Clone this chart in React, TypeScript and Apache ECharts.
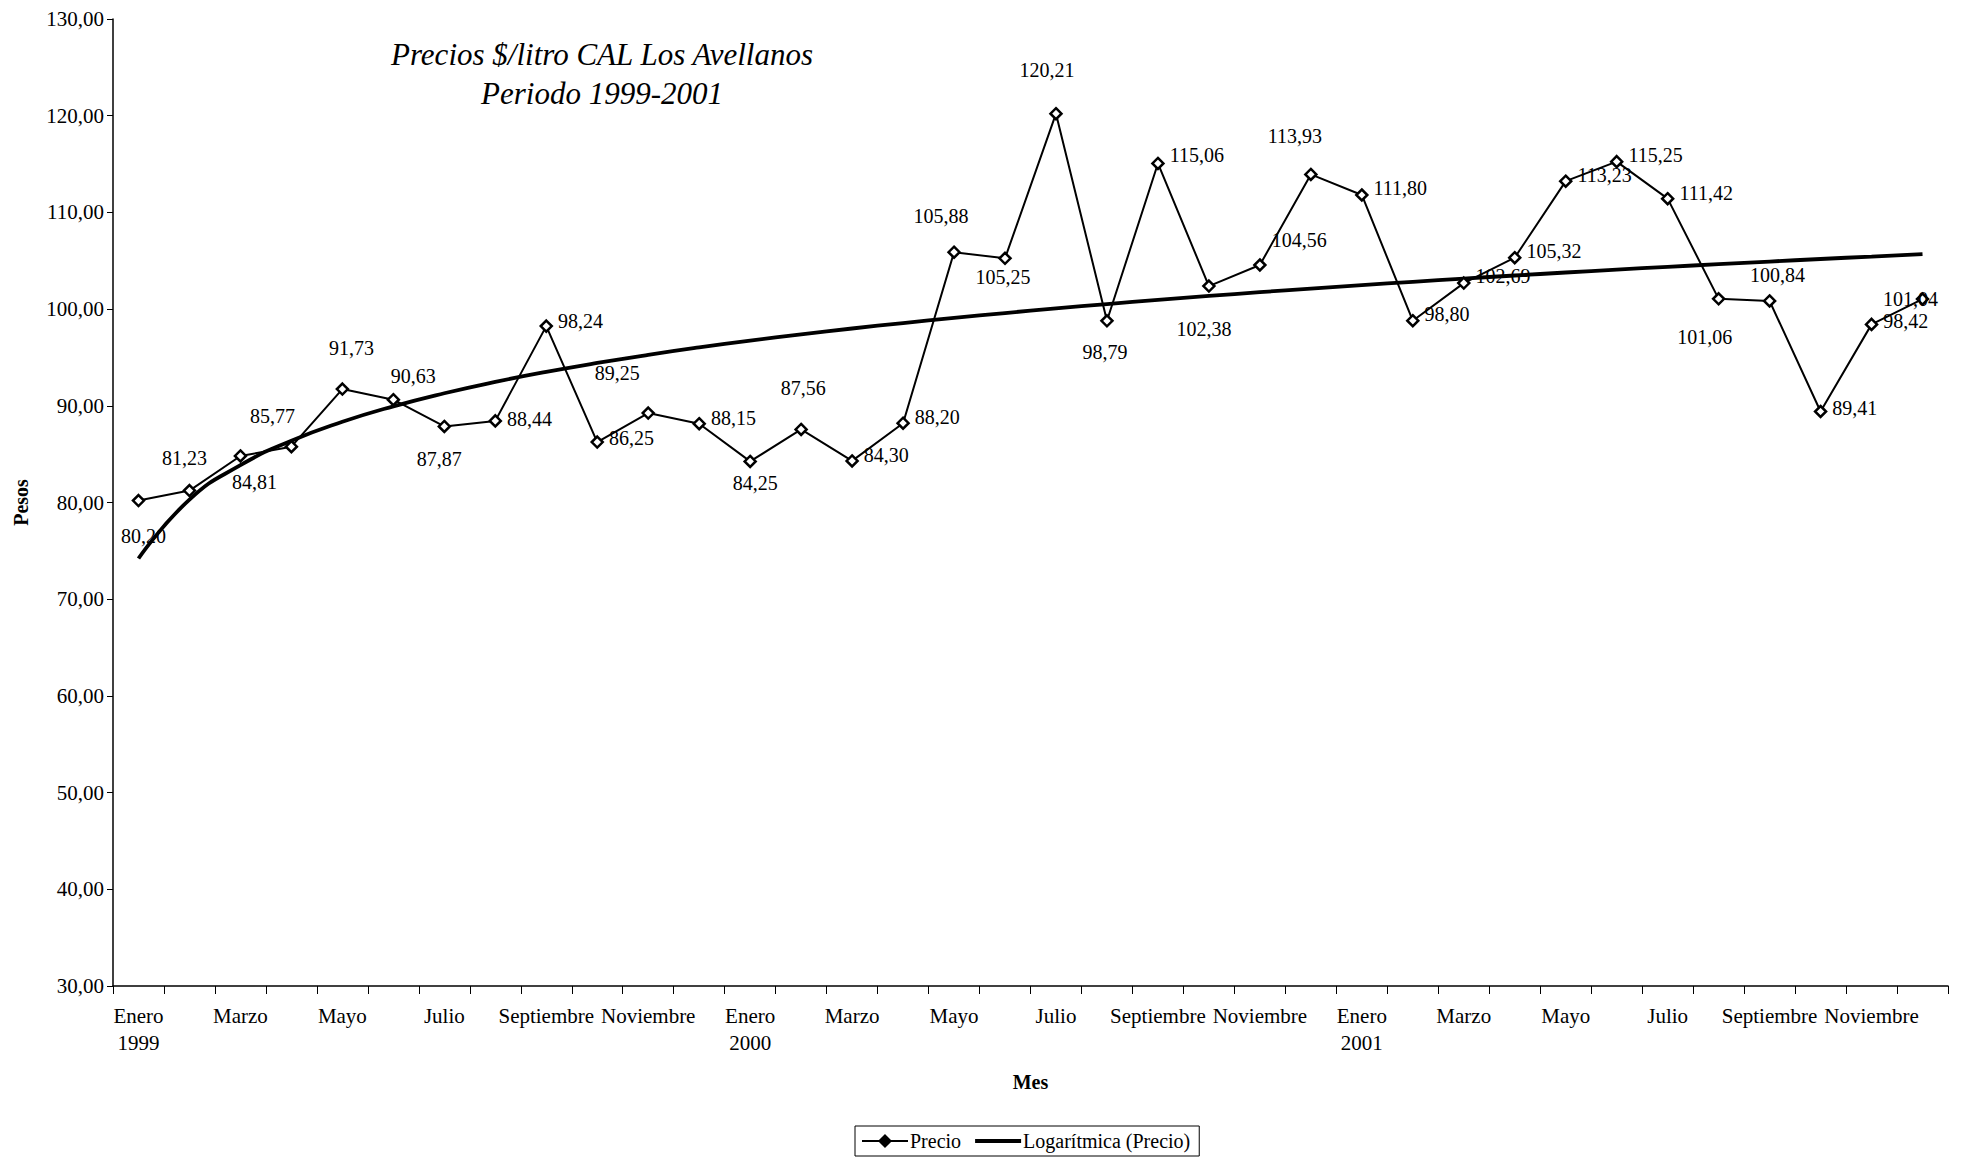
import React, { useEffect, useRef } from "react";
import * as echarts from "echarts";

const monthNames = [
  "Enero\n1999", "Febrero", "Marzo", "Abril", "Mayo", "Junio", "Julio", "Agosto", "Septiembre", "Octubre", "Noviembre", "Diciembre",
  "Enero\n2000", "Febrero", "Marzo", "Abril", "Mayo", "Junio", "Julio", "Agosto", "Septiembre", "Octubre", "Noviembre", "Diciembre",
  "Enero\n2001", "Febrero", "Marzo", "Abril", "Mayo", "Junio", "Julio", "Agosto", "Septiembre", "Octubre", "Noviembre", "Diciembre",
];

const precio = [
  80.2, 81.23, 84.81, 85.77, 91.73, 90.63, 87.87, 88.44, 98.24, 86.25, 89.25, 88.15,
  84.25, 87.56, 84.3, 88.2, 105.88, 105.25, 120.21, 98.79, 115.06, 102.38, 104.56, 113.93,
  111.8, 98.8, 102.69, 105.32, 113.23, 115.25, 111.42, 101.06, 100.84, 89.41, 98.42, 101.04,
];

const yTicks = { min: 30, max: 130, interval: 10 };

// label placement per point: ["r", dy] = right of marker, [dx, dy] = centred offset
const labelPlace: any[] = [
  [5, 35], [-5, -33], [14, 26], [-19, -31], [9, -41], [20, -24], [-5, 33], ["r", -2], ["r", -5], ["r", -4], [-31, -40], ["r", -6],
  [5, 22], [2, -41], ["r", -6], ["r", -6], [-13, -36], [-2, 19], [-9, -44], [-2, 31], ["r", -8], [-5, 43], ["r", -25], [-16, -38],
  ["r", -7], ["r", -7], ["r", -7], ["r", -7], ["r", -6], ["r", -7], ["r", -6], [-14, 38], [8, -26], ["r", -4], ["r", -3], [-12, 0],
];

const fmt = (v: number) => v.toFixed(2).replace(".", ",");

function logTrend(vals: number[]) {
  const n = vals.length;
  const xs = vals.map((_, i) => Math.log(i + 1));
  const mx = xs.reduce((a, b) => a + b, 0) / n;
  const my = vals.reduce((a, b) => a + b, 0) / n;
  let sxy = 0, sxx = 0;
  for (let i = 0; i < n; i++) {
    sxy += (xs[i] - mx) * (vals[i] - my);
    sxx += (xs[i] - mx) * (xs[i] - mx);
  }
  const a = sxy / sxx;
  const b = my - a * mx;
  return xs.map((x) => a * x + b);
}

const FONT = "'Liberation Serif', 'Times New Roman', serif";

export default function App() {
  const ref = useRef<HTMLDivElement>(null);
  useEffect(() => {
    if (!ref.current) return;
    const chart = echarts.init(ref.current, null, { renderer: "svg" });
    const trend = logTrend(precio);
    const data = precio.map((v, i) => {
      const p = labelPlace[i];
      const label =
        p[0] === "r"
          ? { position: "right", distance: 5, offset: [0, p[1]] }
          : { position: "inside", offset: [p[0], p[1]] };
      return { value: v, label };
    });
    chart.setOption({
      animation: false,
      backgroundColor: "#fff",
      textStyle: { fontFamily: FONT, color: "#000" },
      grid: { left: 113, top: 19, right: 18, bottom: 174, containLabel: false },
      graphic: [
        {
          type: "text",
          x: 602,
          y: 54,
          style: {
            text: "Precios $/litro CAL Los Avellanos",
            font: `italic 31px ${FONT}`,
            fill: "#000",
            textAlign: "center",
            textVerticalAlign: "middle",
          },
        },
        {
          type: "text",
          x: 602,
          y: 93,
          style: {
            text: "Periodo 1999-2001",
            font: `italic 31px ${FONT}`,
            fill: "#000",
            textAlign: "center",
            textVerticalAlign: "middle",
          },
        },
      ],
      legend: {
        left: 855,
        top: 1126,
        orient: "horizontal",
        borderColor: "#000",
        borderWidth: 1,
        borderRadius: 0,
        padding: [5, 9, 5, 6],
        itemGap: 14,
        itemWidth: 46,
        itemHeight: 14,
        textStyle: { fontFamily: FONT, fontSize: 20, color: "#000", padding: [0, 0, 0, -3] },
        data: [
          { name: "Precio", itemStyle: { color: "#000", borderColor: "#000" } },
          {
            name: "Logarítmica (Precio)",
            icon: "path://M0,0 L46,0 L46,4 L0,4 Z",
            itemStyle: { color: "#000" },
          },
        ],
      },
      xAxis: {
        type: "category",
        data: monthNames,
        boundaryGap: true,
        name: "Mes",
        nameLocation: "middle",
        nameGap: 86,
        nameTextStyle: { fontFamily: FONT, fontSize: 20, fontWeight: "bold", color: "#000" },
        axisLine: { show: true, lineStyle: { color: "#000", width: 1.5 } },
        axisTick: { show: true, interval: 0, length: 8, lineStyle: { color: "#000", width: 1 } },
        axisLabel: {
          interval: 1,
          margin: 16,
          fontFamily: FONT,
          fontSize: 21,
          lineHeight: 27,
          color: "#000",
        },
        splitLine: { show: false },
      },
      yAxis: {
        type: "value",
        min: yTicks.min,
        max: yTicks.max,
        interval: yTicks.interval,
        name: "Pesos",
        nameLocation: "middle",
        nameRotate: 90,
        nameGap: 82,
        nameTextStyle: { fontFamily: FONT, fontSize: 20, fontWeight: "bold", color: "#000" },
        axisLine: { show: true, lineStyle: { color: "#000", width: 1.5 } },
        axisTick: { show: true, length: 6, lineStyle: { color: "#000", width: 1 } },
        axisLabel: {
          margin: 9,
          fontFamily: FONT,
          fontSize: 21,
          color: "#000",
          formatter: (v: number) => fmt(v),
        },
        splitLine: { show: false },
      },
      series: [
        {
          name: "Precio",
          type: "line",
          data,
          symbol: "diamond",
          symbolSize: 11,
          lineStyle: { color: "#000", width: 2 },
          itemStyle: { color: "#fff", borderColor: "#000", borderWidth: 2.5 },
          label: {
            show: true,
            fontFamily: FONT,
            fontSize: 20,
            color: "#000",
            formatter: (p: any) => fmt(p.value),
          },
          z: 3,
        },
        {
          name: "Logarítmica (Precio)",
          type: "line",
          data: trend,
          symbol: "none",
          smooth: true,
          lineStyle: { color: "#000", width: 3.8 },
          itemStyle: { color: "#000" },
          z: 2,
        },
      ],
    });
    return () => chart.dispose();
  }, []);
  return (
    <div
      ref={ref}
      style={{ position: "absolute", left: 0, top: 0, width: 1966, height: 1160, background: "#fff" }}
    />
  );
}
